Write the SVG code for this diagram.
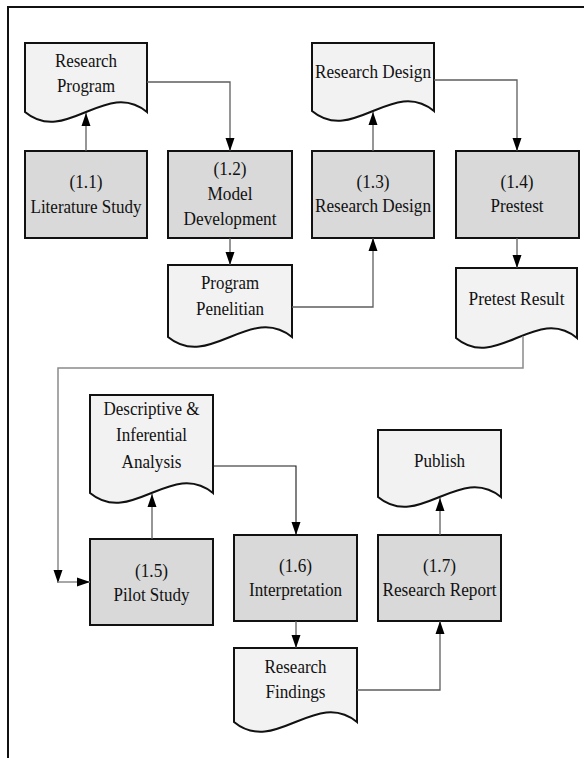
<svg xmlns="http://www.w3.org/2000/svg" width="584" height="758" viewBox="0 0 584 758">
<style>
.box{fill:#d9d9d9;stroke:#111;stroke-width:2}
.doc{fill:#f2f2f2;stroke:#111;stroke-width:2}
text{font-family:"Liberation Serif","Times New Roman",serif;font-size:19px;fill:#111;text-anchor:middle}
.c{fill:none;stroke:#5e5e5e;stroke-width:1.3}
.cd{fill:none;stroke:#1a1a1a;stroke-width:1.1}
.cl{fill:none;stroke:#8a8a8a;stroke-width:1.5}
</style>
<defs>
<marker id="ah" markerUnits="userSpaceOnUse" markerWidth="13" markerHeight="10" viewBox="0 0 13 10" refX="13" refY="5" orient="auto">
<path d="M0,0.5 L13,5 L0,9.5 Z" fill="#000"/>
</marker>
</defs>
<rect width="584" height="758" fill="#fff"/>
<path d="M8,758 V7 H584" fill="none" stroke="#111" stroke-width="2"/>

<g id="research-program">
<path class="doc" d="M25,43 H147 V112 C106.3,78 65.7,146 25,112 Z"/>
<text x="86" y="67" textLength="62" lengthAdjust="spacingAndGlyphs">Research</text>
<text x="86" y="92" textLength="58" lengthAdjust="spacingAndGlyphs">Program</text>
</g>
<g id="n11">
<rect class="box" x="25" y="151" width="122" height="87"/>
<text x="86" y="188" textLength="33" lengthAdjust="spacingAndGlyphs">(1.1)</text>
<text x="86" y="213" textLength="111" lengthAdjust="spacingAndGlyphs">Literature Study</text>
</g>
<g id="n12">
<rect class="box" x="168" y="151" width="124" height="87"/>
<text x="230" y="175" textLength="33" lengthAdjust="spacingAndGlyphs">(1.2)</text>
<text x="230" y="200" textLength="45" lengthAdjust="spacingAndGlyphs">Model</text>
<text x="230" y="225" textLength="93" lengthAdjust="spacingAndGlyphs">Development</text>
</g>
<g id="program-penelitian">
<path class="doc" d="M168,265 H292 V337 C250.7,303 209.3,371 168,337 Z"/>
<text x="230" y="289" textLength="58" lengthAdjust="spacingAndGlyphs">Program</text>
<text x="230" y="315" textLength="68" lengthAdjust="spacingAndGlyphs">Penelitian</text>
</g>
<g id="research-design-doc">
<path class="doc" d="M312,43 H434 V111 C393.3,77 352.7,145 312,111 Z"/>
<text x="373" y="78" textLength="116" lengthAdjust="spacingAndGlyphs">Research Design</text>
</g>
<g id="n13">
<rect class="box" x="312" y="151" width="122" height="87"/>
<text x="373" y="188" textLength="33" lengthAdjust="spacingAndGlyphs">(1.3)</text>
<text x="373" y="212" textLength="116" lengthAdjust="spacingAndGlyphs">Research Design</text>
</g>
<g id="n14">
<rect class="box" x="456" y="151" width="123" height="87"/>
<text x="517" y="188" textLength="33" lengthAdjust="spacingAndGlyphs">(1.4)</text>
<text x="517" y="212" textLength="53" lengthAdjust="spacingAndGlyphs">Prestest</text>
</g>
<g id="pretest-result">
<path class="doc" d="M456,268 H577 V338 C536.7,304 496.3,372 456,338 Z"/>
<text x="516.5" y="305" textLength="96" lengthAdjust="spacingAndGlyphs">Pretest Result</text>
</g>
<g id="descriptive-analysis">
<path class="doc" d="M90,395 H213 V493 C172,459 131,527 90,493 Z"/>
<text x="151.5" y="415" textLength="96" lengthAdjust="spacingAndGlyphs">Descriptive &amp;</text>
<text x="151.5" y="441" textLength="71" lengthAdjust="spacingAndGlyphs">Inferential</text>
<text x="151.5" y="468" textLength="60" lengthAdjust="spacingAndGlyphs">Analysis</text>
</g>
<g id="n15">
<rect class="box" x="90" y="539" width="123" height="86"/>
<text x="151.5" y="577" textLength="33" lengthAdjust="spacingAndGlyphs">(1.5)</text>
<text x="151.5" y="601" textLength="76" lengthAdjust="spacingAndGlyphs">Pilot Study</text>
</g>
<g id="n16">
<rect class="box" x="234" y="535" width="123" height="86"/>
<text x="295.5" y="572" textLength="33" lengthAdjust="spacingAndGlyphs">(1.6)</text>
<text x="295.5" y="596" textLength="93" lengthAdjust="spacingAndGlyphs">Interpretation</text>
</g>
<g id="research-findings">
<path class="doc" d="M234,648 H357 V722 C316,688 275,756 234,722 Z"/>
<text x="295.5" y="673" textLength="62" lengthAdjust="spacingAndGlyphs">Research</text>
<text x="295.5" y="698" textLength="60" lengthAdjust="spacingAndGlyphs">Findings</text>
</g>
<g id="n17">
<rect class="box" x="378" y="535" width="123" height="86"/>
<text x="439.5" y="572" textLength="33" lengthAdjust="spacingAndGlyphs">(1.7)</text>
<text x="439.5" y="596" textLength="114" lengthAdjust="spacingAndGlyphs">Research Report</text>
</g>
<g id="publish">
<path class="doc" d="M378,430 H501 V497 C460,463 419,531 378,497 Z"/>
<text x="439.5" y="467" textLength="51" lengthAdjust="spacingAndGlyphs">Publish</text>
</g>

<g id="connectors">
<path class="c" d="M86,151 V113" marker-end="url(#ah)"/>
<path class="c" d="M147,82 H230 V151" marker-end="url(#ah)"/>
<path class="c" d="M230,238 V265" marker-end="url(#ah)"/>
<path class="c" d="M292,307 H373 V238" marker-end="url(#ah)"/>
<path class="c" d="M373,151 V112" marker-end="url(#ah)"/>
<path class="c" d="M434,80 H517 V151" marker-end="url(#ah)"/>
<path class="c" d="M517,238 V268" marker-end="url(#ah)"/>
<path class="cl" d="M523,336 V368 H58 V583" marker-end="url(#ah)"/>
<path class="cl" d="M58,582 H90" marker-end="url(#ah)"/>
<path class="c" d="M152,539 V494" marker-end="url(#ah)"/>
<path class="cd" d="M213,466 H296 V535" marker-end="url(#ah)"/>
<path class="c" d="M296,621 V648" marker-end="url(#ah)"/>
<path class="c" d="M357,690 H440 V621" marker-end="url(#ah)"/>
<path class="c" d="M440,535 V498" marker-end="url(#ah)"/>
</g>
</svg>
